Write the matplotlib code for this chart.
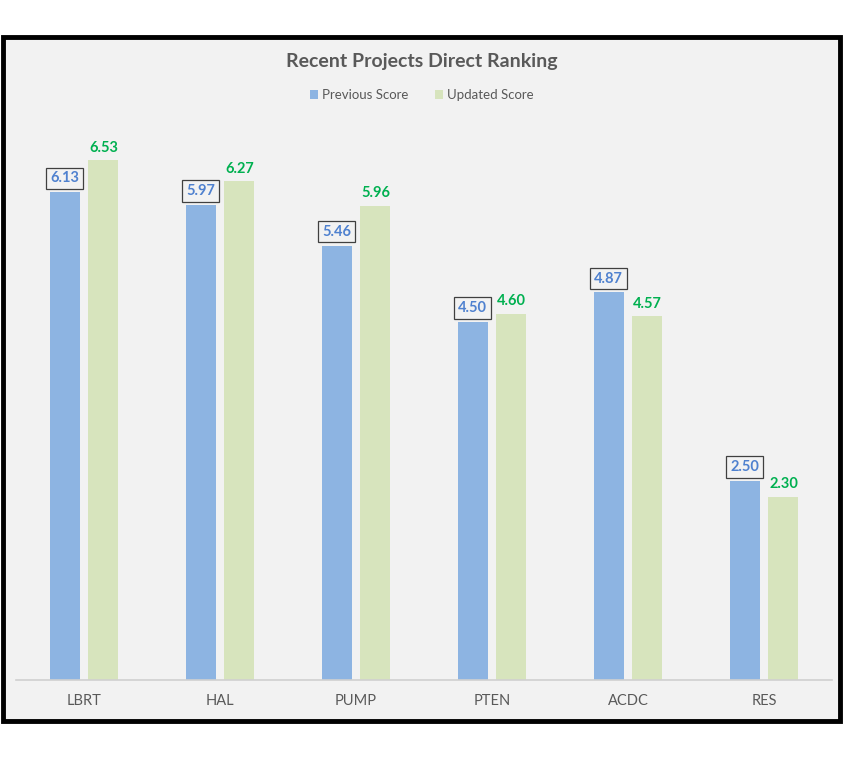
import numpy as np
import matplotlib
matplotlib.use('Agg')
from matplotlib import pyplot as plt
from matplotlib.patches import Rectangle

plt.rcParams['font.family'] = ['Lato', 'DejaVu Sans']

projects = ['LBRT', 'HAL', 'PUMP', 'PTEN', 'ACDC', 'RES']
previous_score = [6.13, 5.97, 5.46, 4.50, 4.87, 2.50]
updated_score = [6.53, 6.27, 5.96, 4.60, 4.57, 2.30]

blue = '#8db4e2'
green = '#d7e4bd'
bg = '#f2f2f2'
grey_text = '#595959'

fig = plt.figure(figsize=(8.44, 7.58), dpi=100)
fig.patch.set_facecolor('white')

# chart area with black frame
fig.patches.append(Rectangle((3 / 844, 1 - 721 / 758), 837 / 844, 684 / 758,
                             transform=fig.transFigure, facecolor=bg,
                             edgecolor='black', linewidth=3.5, zorder=-10))

ax = fig.add_axes([16 / 844, 78 / 758, 816 / 844, 557 / 758])
ax.set_facecolor('none')

x = np.arange(len(projects))
w = 0.22
off = 0.143
b1 = ax.bar(x - off, previous_score, w, color=blue, label='Previous Score', zorder=2)
b2 = ax.bar(x + off, updated_score, w, color=green, label='Updated Score', zorder=2)

for xi, v in zip(x, previous_score):
    ax.annotate(f'{v:.2f}', (xi - off, v), xytext=(0, 5), textcoords='offset points',
                ha='center', va='bottom', color='#4f81cf', fontsize=10.5,
                fontweight='bold',
                bbox=dict(boxstyle='square,pad=0.25', facecolor=bg,
                          edgecolor='#404040', linewidth=0.9))
for xi, v in zip(x, updated_score):
    ax.annotate(f'{v:.2f}', (xi + off, v), xytext=(0, 4), textcoords='offset points',
                ha='center', va='bottom', color='#00b050', fontsize=10.5,
                fontweight='bold')

ax.set_xlim(-0.5, len(projects) - 0.5)
ax.set_ylim(0, 7)
ax.set_xticks(x)
ax.set_xticklabels(projects, fontsize=10.5, color=grey_text)
ax.tick_params(axis='x', length=0, pad=10)
ax.set_yticks([])
for s in ['top', 'right', 'left']:
    ax.spines[s].set_visible(False)
ax.spines['bottom'].set_color('#d0d0d0')
ax.spines['bottom'].set_linewidth(1.2)

fig.text(0.5, 1 - 61 / 758, 'Recent Projects Direct Ranking', ha='center', va='center',
         fontsize=14, fontweight='bold', color=grey_text)
fig.legend(handles=[b1, b2], loc='center', bbox_to_anchor=(0.5, 1 - 95 / 758),
           ncol=2, frameon=False, fontsize=9.5, labelcolor=grey_text,
           handlelength=0.6, handleheight=0.6, handletextpad=0.3, columnspacing=2.0)

plt.savefig('out.png', dpi=100)
